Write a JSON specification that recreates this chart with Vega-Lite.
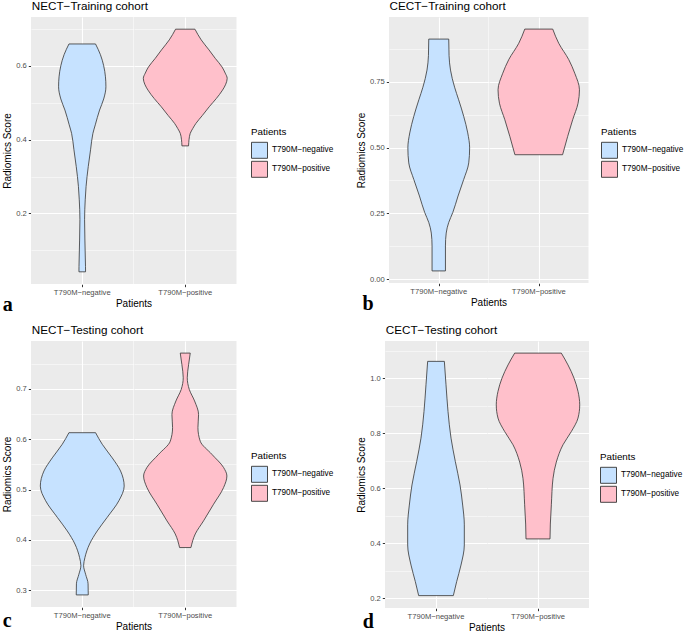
{
  "$schema": "https://vega.github.io/schema/vega-lite/v6.json",
  "padding": {"left": 2, "top": 1, "right": 0, "bottom": 0},
  "background": "white",
  "spacing": 10,
  "resolve": {"scale": {"color": "independent"}},
  "vconcat": [
    {
      "hconcat": [
        {
          "title": {"text": "a", "orient": "bottom", "anchor": "start", "frame": "bounds", "font": "Liberation Serif", "fontWeight": "bold", "fontSize": 20, "offset": -14},
          "resolve": {"scale": {"color": "independent"}},
          "vconcat": [
            {
              "title": {"text": "NECT−Training cohort", "dx": 29},
              "data": {"values": [
                {"group": "T790M−negative", "y": 0.659, "w": 0.285},
                {"group": "T790M−negative", "y": 0.63, "w": 0.39},
                {"group": "T790M−negative", "y": 0.6, "w": 0.46},
                {"group": "T790M−negative", "y": 0.57, "w": 0.498},
                {"group": "T790M−negative", "y": 0.543, "w": 0.508},
                {"group": "T790M−negative", "y": 0.51, "w": 0.46},
                {"group": "T790M−negative", "y": 0.48, "w": 0.372},
                {"group": "T790M−negative", "y": 0.44, "w": 0.28},
                {"group": "T790M−negative", "y": 0.417, "w": 0.229},
                {"group": "T790M−negative", "y": 0.374, "w": 0.18},
                {"group": "T790M−negative", "y": 0.327, "w": 0.129},
                {"group": "T790M−negative", "y": 0.273, "w": 0.082},
                {"group": "T790M−negative", "y": 0.237, "w": 0.064},
                {"group": "T790M−negative", "y": 0.183, "w": 0.05},
                {"group": "T790M−negative", "y": 0.128, "w": 0.057},
                {"group": "T790M−negative", "y": 0.056, "w": 0.07},
                {"group": "T790M−negative", "y": 0.042, "w": 0.071},
                {"group": "T790M−positive", "y": 0.699, "w": 0.208},
                {"group": "T790M−positive", "y": 0.67, "w": 0.343},
                {"group": "T790M−positive", "y": 0.643, "w": 0.509},
                {"group": "T790M−positive", "y": 0.62, "w": 0.644},
                {"group": "T790M−positive", "y": 0.597, "w": 0.788},
                {"group": "T790M−positive", "y": 0.58, "w": 0.858},
                {"group": "T790M−positive", "y": 0.566, "w": 0.9},
                {"group": "T790M−positive", "y": 0.55, "w": 0.869},
                {"group": "T790M−positive", "y": 0.534, "w": 0.8},
                {"group": "T790M−positive", "y": 0.511, "w": 0.665},
                {"group": "T790M−positive", "y": 0.489, "w": 0.515},
                {"group": "T790M−positive", "y": 0.465, "w": 0.365},
                {"group": "T790M−positive", "y": 0.444, "w": 0.23},
                {"group": "T790M−positive", "y": 0.43, "w": 0.161},
                {"group": "T790M−positive", "y": 0.417, "w": 0.107},
                {"group": "T790M−positive", "y": 0.401, "w": 0.082},
                {"group": "T790M−positive", "y": 0.383, "w": 0.071}
              ]},
              "spacing": 0,
              "facet": {"column": {"field": "group", "type": "nominal", "title": "Patients",
                "header": {"labelOrient": "bottom", "titleOrient": "bottom", "labelFontSize": 7.6, "labelColor": "#4D4D4D", "labelPadding": 2, "titleFontSize": 10, "titleFontWeight": "normal", "titleColor": "black", "titlePadding": -8}}},
              "spec": {
                "width": 102.5, "height": 267,
                "mark": {"type": "area", "orient": "horizontal", "interpolate": "monotone", "stroke": "#333333", "strokeWidth": 0.8},
                "encoding": {
                  "y": {"field": "y", "type": "quantitative", "title": "Radiomics Score",
                    "scale": {"domain": [0.009, 0.732], "nice": false, "zero": false},
                    "axis": {"values": [0.1, 0.2, 0.3, 0.4, 0.5, 0.6, 0.7], "format": ".1f",
                      "labelExpr": "abs(datum.value*5 - round(datum.value*5)) < 0.000001 ? datum.label : ''",
                      "gridWidth": {"condition": {"test": "abs(datum.value*5 - round(datum.value*5)) < 0.000001", "value": 1.1}, "value": 0.5},
                      "tickOpacity": {"condition": {"test": "abs(datum.value*5 - round(datum.value*5)) < 0.000001", "value": 1}, "value": 0}}},
                  "x": {"field": "w", "type": "quantitative", "stack": "center", "impute": null, "title": null,
                    "scale": {"domain": [-0.1, 1.0], "nice": false, "zero": false},
                    "axis": {"values": [0.45], "labels": false, "grid": true, "gridWidth": 1.1}},
                  "color": {"field": "group", "type": "nominal", "title": "Patients",
                    "scale": {"domain": ["T790M−negative", "T790M−positive"], "range": ["#C6E2FF", "#FFC0CB"]},
                    "legend": {"orient": "none", "legendX": 220, "legendY": 110}}
                }
              }
            }
          ]
        },
        {
          "title": {"text": "b", "orient": "bottom", "anchor": "start", "frame": "bounds", "font": "Liberation Serif", "fontWeight": "bold", "fontSize": 20, "offset": -14, "dx": 6},
          "resolve": {"scale": {"color": "independent"}},
          "vconcat": [
            {
              "title": {"text": "CECT−Training cohort", "dx": 33},
              "data": {"values": [
                {"group": "T790M−negative", "y": 0.913, "w": 0.221},
                {"group": "T790M−negative", "y": 0.85, "w": 0.228},
                {"group": "T790M−negative", "y": 0.795, "w": 0.26},
                {"group": "T790M−negative", "y": 0.73, "w": 0.35},
                {"group": "T790M−negative", "y": 0.682, "w": 0.44},
                {"group": "T790M−negative", "y": 0.619, "w": 0.552},
                {"group": "T790M−negative", "y": 0.556, "w": 0.641},
                {"group": "T790M−negative", "y": 0.499, "w": 0.683},
                {"group": "T790M−negative", "y": 0.442, "w": 0.663},
                {"group": "T790M−negative", "y": 0.379, "w": 0.552},
                {"group": "T790M−negative", "y": 0.316, "w": 0.427},
                {"group": "T790M−negative", "y": 0.253, "w": 0.31},
                {"group": "T790M−negative", "y": 0.215, "w": 0.22},
                {"group": "T790M−negative", "y": 0.175, "w": 0.165},
                {"group": "T790M−negative", "y": 0.126, "w": 0.148},
                {"group": "T790M−negative", "y": 0.031, "w": 0.148},
                {"group": "T790M−positive", "y": 0.951, "w": 0.309},
                {"group": "T790M−positive", "y": 0.897, "w": 0.442},
                {"group": "T790M−positive", "y": 0.835, "w": 0.663},
                {"group": "T790M−positive", "y": 0.783, "w": 0.796},
                {"group": "T790M−positive", "y": 0.72, "w": 0.9},
                {"group": "T790M−positive", "y": 0.669, "w": 0.869},
                {"group": "T790M−positive", "y": 0.606, "w": 0.75},
                {"group": "T790M−positive", "y": 0.543, "w": 0.64},
                {"group": "T790M−positive", "y": 0.473, "w": 0.527}
              ]},
              "spacing": 0,
              "facet": {"column": {"field": "group", "type": "nominal", "title": "Patients",
                "header": {"labelOrient": "bottom", "titleOrient": "bottom", "labelFontSize": 7.6, "labelColor": "#4D4D4D", "labelPadding": 2, "titleFontSize": 10, "titleFontWeight": "normal", "titleColor": "black", "titlePadding": -8}}},
              "spec": {
                "width": 99.5, "height": 266,
                "mark": {"type": "area", "orient": "horizontal", "interpolate": "monotone", "stroke": "#333333", "strokeWidth": 0.8},
                "encoding": {
                  "y": {"field": "y", "type": "quantitative", "title": "Radiomics Score",
                    "scale": {"domain": [-0.015, 0.997], "nice": false, "zero": false},
                    "axis": {"values": [0, 0.125, 0.25, 0.375, 0.5, 0.625, 0.75, 0.875], "format": ".2f",
                      "labelExpr": "abs(datum.value*4 - round(datum.value*4)) < 0.000001 ? datum.label : ''",
                      "gridWidth": {"condition": {"test": "abs(datum.value*4 - round(datum.value*4)) < 0.000001", "value": 1.1}, "value": 0.5},
                      "tickOpacity": {"condition": {"test": "abs(datum.value*4 - round(datum.value*4)) < 0.000001", "value": 1}, "value": 0}}},
                  "x": {"field": "w", "type": "quantitative", "stack": "center", "impute": null, "title": null,
                    "scale": {"domain": [-0.1, 1.0], "nice": false, "zero": false},
                    "axis": {"values": [0.45], "labels": false, "grid": true, "gridWidth": 1.1}},
                  "color": {"field": "group", "type": "nominal", "title": "Patients",
                    "scale": {"domain": ["T790M−negative", "T790M−positive"], "range": ["#C6E2FF", "#FFC0CB"]},
                    "legend": {"orient": "none", "legendX": 212, "legendY": 110}}
                }
              }
            }
          ]
        }
      ],
      "spacing": 22,
      "resolve": {"scale": {"color": "independent"}}
    },
    {
      "hconcat": [
        {
          "title": {"text": "c", "orient": "bottom", "anchor": "start", "frame": "bounds", "font": "Liberation Serif", "fontWeight": "bold", "fontSize": 20, "offset": -21},
          "resolve": {"scale": {"color": "independent"}},
          "vconcat": [
            {
              "title": {"text": "NECT−Testing cohort", "dx": 29},
              "data": {"values": [
                {"group": "T790M−negative", "y": 0.613, "w": 0.286},
                {"group": "T790M−negative", "y": 0.59, "w": 0.429},
                {"group": "T790M−negative", "y": 0.563, "w": 0.644},
                {"group": "T790M−negative", "y": 0.537, "w": 0.822},
                {"group": "T790M−negative", "y": 0.507, "w": 0.9},
                {"group": "T790M−negative", "y": 0.478, "w": 0.787},
                {"group": "T790M−negative", "y": 0.445, "w": 0.536},
                {"group": "T790M−negative", "y": 0.418, "w": 0.322},
                {"group": "T790M−negative", "y": 0.392, "w": 0.157},
                {"group": "T790M−negative", "y": 0.365, "w": 0.057},
                {"group": "T790M−negative", "y": 0.349, "w": 0.029},
                {"group": "T790M−negative", "y": 0.332, "w": 0.072},
                {"group": "T790M−negative", "y": 0.313, "w": 0.125},
                {"group": "T790M−negative", "y": 0.291, "w": 0.129},
                {"group": "T790M−positive", "y": 0.771, "w": 0.107},
                {"group": "T790M−positive", "y": 0.748, "w": 0.072},
                {"group": "T790M−positive", "y": 0.722, "w": 0.043},
                {"group": "T790M−positive", "y": 0.699, "w": 0.086},
                {"group": "T790M−positive", "y": 0.676, "w": 0.2},
                {"group": "T790M−positive", "y": 0.649, "w": 0.286},
                {"group": "T790M−positive", "y": 0.623, "w": 0.272},
                {"group": "T790M−positive", "y": 0.596, "w": 0.322},
                {"group": "T790M−positive", "y": 0.57, "w": 0.572},
                {"group": "T790M−positive", "y": 0.544, "w": 0.822},
                {"group": "T790M−positive", "y": 0.527, "w": 0.894},
                {"group": "T790M−positive", "y": 0.504, "w": 0.822},
                {"group": "T790M−positive", "y": 0.471, "w": 0.608},
                {"group": "T790M−positive", "y": 0.438, "w": 0.393},
                {"group": "T790M−positive", "y": 0.412, "w": 0.215},
                {"group": "T790M−positive", "y": 0.385, "w": 0.122}
              ]},
              "spacing": 0,
              "facet": {"column": {"field": "group", "type": "nominal", "title": "Patients",
                "header": {"labelOrient": "bottom", "titleOrient": "bottom", "labelFontSize": 7.6, "labelColor": "#4D4D4D", "labelPadding": 2, "titleFontSize": 10, "titleFontWeight": "normal", "titleColor": "black", "titlePadding": -8}}},
              "spec": {
                "width": 102.5, "height": 266,
                "mark": {"type": "area", "orient": "horizontal", "interpolate": "monotone", "stroke": "#333333", "strokeWidth": 0.8},
                "encoding": {
                  "y": {"field": "y", "type": "quantitative", "title": "Radiomics Score",
                    "scale": {"domain": [0.267, 0.795], "nice": false, "zero": false},
                    "axis": {"values": [0.3, 0.35, 0.4, 0.45, 0.5, 0.55, 0.6, 0.65, 0.7, 0.75], "format": ".1f",
                      "labelExpr": "abs(datum.value*10 - round(datum.value*10)) < 0.000001 ? datum.label : ''",
                      "gridWidth": {"condition": {"test": "abs(datum.value*10 - round(datum.value*10)) < 0.000001", "value": 1.1}, "value": 0.5},
                      "tickOpacity": {"condition": {"test": "abs(datum.value*10 - round(datum.value*10)) < 0.000001", "value": 1}, "value": 0}}},
                  "x": {"field": "w", "type": "quantitative", "stack": "center", "impute": null, "title": null,
                    "scale": {"domain": [-0.1, 1.0], "nice": false, "zero": false},
                    "axis": {"values": [0.45], "labels": false, "grid": true, "gridWidth": 1.1}},
                  "color": {"field": "group", "type": "nominal", "title": "Patients",
                    "scale": {"domain": ["T790M−negative", "T790M−positive"], "range": ["#C6E2FF", "#FFC0CB"]},
                    "legend": {"orient": "none", "legendX": 220, "legendY": 110}}
                }
              }
            }
          ]
        },
        {
          "title": {"text": "d", "orient": "bottom", "anchor": "start", "frame": "bounds", "font": "Liberation Serif", "fontWeight": "bold", "fontSize": 20, "offset": -21, "dx": 6},
          "resolve": {"scale": {"color": "independent"}},
          "vconcat": [
            {
              "title": {"text": "CECT−Testing cohort", "dx": 29},
              "data": {"values": [
                {"group": "T790M−negative", "y": 1.061, "w": 0.18},
                {"group": "T790M−negative", "y": 0.976, "w": 0.216},
                {"group": "T790M−negative", "y": 0.879, "w": 0.259},
                {"group": "T790M−negative", "y": 0.782, "w": 0.324},
                {"group": "T790M−negative", "y": 0.697, "w": 0.417},
                {"group": "T790M−negative", "y": 0.612, "w": 0.518},
                {"group": "T790M−negative", "y": 0.539, "w": 0.575},
                {"group": "T790M−negative", "y": 0.467, "w": 0.611},
                {"group": "T790M−negative", "y": 0.394, "w": 0.611},
                {"group": "T790M−negative", "y": 0.321, "w": 0.539},
                {"group": "T790M−negative", "y": 0.261, "w": 0.446},
                {"group": "T790M−negative", "y": 0.21, "w": 0.374},
                {"group": "T790M−positive", "y": 1.091, "w": 0.503},
                {"group": "T790M−positive", "y": 1.048, "w": 0.647},
                {"group": "T790M−positive", "y": 1.0, "w": 0.777},
                {"group": "T790M−positive", "y": 0.952, "w": 0.863},
                {"group": "T790M−positive", "y": 0.903, "w": 0.9},
                {"group": "T790M−positive", "y": 0.855, "w": 0.863},
                {"group": "T790M−positive", "y": 0.806, "w": 0.719},
                {"group": "T790M−positive", "y": 0.758, "w": 0.539},
                {"group": "T790M−positive", "y": 0.695, "w": 0.395},
                {"group": "T790M−positive", "y": 0.636, "w": 0.324},
                {"group": "T790M−positive", "y": 0.54, "w": 0.288},
                {"group": "T790M−positive", "y": 0.47, "w": 0.266},
                {"group": "T790M−positive", "y": 0.416, "w": 0.259}
              ]},
              "spacing": 0,
              "facet": {"column": {"field": "group", "type": "nominal", "title": "Patients",
                "header": {"labelOrient": "bottom", "titleOrient": "bottom", "labelFontSize": 7.6, "labelColor": "#4D4D4D", "labelPadding": 2, "titleFontSize": 10, "titleFontWeight": "normal", "titleColor": "black", "titlePadding": -8}}},
              "spec": {
                "width": 102, "height": 267,
                "mark": {"type": "area", "orient": "horizontal", "interpolate": "monotone", "stroke": "#333333", "strokeWidth": 0.8},
                "encoding": {
                  "y": {"field": "y", "type": "quantitative", "title": "Radiomics Score",
                    "scale": {"domain": [0.165, 1.135], "nice": false, "zero": false},
                    "axis": {"values": [0.2, 0.3, 0.4, 0.5, 0.6, 0.7, 0.8, 0.9, 1.0, 1.1], "format": ".1f",
                      "labelExpr": "abs(datum.value*5 - round(datum.value*5)) < 0.000001 ? datum.label : ''",
                      "gridWidth": {"condition": {"test": "abs(datum.value*5 - round(datum.value*5)) < 0.000001", "value": 1.1}, "value": 0.5},
                      "tickOpacity": {"condition": {"test": "abs(datum.value*5 - round(datum.value*5)) < 0.000001", "value": 1}, "value": 0}}},
                  "x": {"field": "w", "type": "quantitative", "stack": "center", "impute": null, "title": null,
                    "scale": {"domain": [-0.1, 1.0], "nice": false, "zero": false},
                    "axis": {"values": [0.45], "labels": false, "grid": true, "gridWidth": 1.1}},
                  "color": {"field": "group", "type": "nominal", "title": "Patients",
                    "scale": {"domain": ["T790M−negative", "T790M−positive"], "range": ["#C6E2FF", "#FFC0CB"]},
                    "legend": {"orient": "none", "legendX": 215, "legendY": 111}}
                }
              }
            }
          ]
        }
      ],
      "spacing": 22,
      "resolve": {"scale": {"color": "independent"}}
    }
  ],
  "config": {
    "font": "Liberation Sans",
    "view": {"fill": "#EBEBEB", "stroke": null},
    "axis": {"domain": false, "gridColor": "#FFFFFF", "gridOpacity": 1, "tickColor": "#333333", "tickSize": 2.7, "tickWidth": 1, "labelColor": "#4D4D4D", "labelFontSize": 7.6, "labelPadding": 2, "labelOverlap": false, "titleFontSize": 10, "titleFontWeight": "normal", "titleColor": "#000000", "titlePadding": 3},
    "title": {"fontSize": 11.7, "fontWeight": "normal", "anchor": "start", "color": "#000000", "offset": 4},
    "legend": {"titleFontSize": 9.8, "titleFontWeight": "normal", "titleColor": "#000000", "labelFontSize": 8.2, "labelColor": "#000000", "symbolType": "square", "symbolSize": 256, "symbolStrokeColor": "#333333", "symbolStrokeWidth": 0.9, "padding": 0, "rowPadding": -4, "labelOffset": 4, "titlePadding": 5}
  }
}
